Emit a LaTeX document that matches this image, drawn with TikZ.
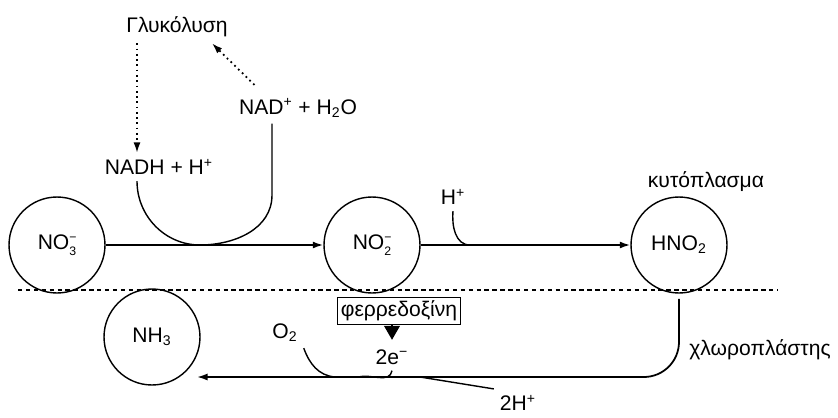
\documentclass[tikz,border=0pt]{standalone}
\usepackage{fontspec}
\setmainfont{Liberation Sans}
\usetikzlibrary{arrows.meta}
\newcommand{\ionx}[3]{#1\rlap{\raisebox{0.7ex}{\scriptsize #3}}\raisebox{-0.5ex}{\scriptsize #2}}
\tikzset{
  species/.style={draw,circle,line width=0.8pt,minimum size=1.92cm,inner sep=0pt},
  flow/.style={line width=1pt,-{Latex[length=6pt,width=4pt]}},
  side/.style={line width=0.8pt},
  helper/.style={line width=1pt,dotted,-{Latex[length=6pt,width=4pt]}},
  divider/.style={line width=0.8pt,dash pattern=on 2.5pt off 2pt},
  enzyme/.style={draw,line width=0.9pt,inner xsep=2pt,inner ysep=2pt}
}
\begin{document}
\begin{tikzpicture}[x=0.02cm,y=0.02cm,font=\fontsize{12}{14}\selectfont]
  \useasboundingbox (0,0) rectangle (838,417);
  \foreach \n/\x/\y/\t in {no3/57/172/{\ionx{NO}{3}{−}},no2/372/172/{\ionx{NO}{2}{−}},hno2/679/172/{HNO\textsubscript{2}},nh3/152/80/{NH\textsubscript{3}}} {
    \node[species] (\n) at (\x,\y) {\t};
  }
  \node (gly) at (177,390) {Γλυκόλυση};
  \node (nadp) at (298,309) {NAD\textsuperscript{+} + H\textsubscript{2}O};
  \node (nadh) at (159,250) {NADH + H\textsuperscript{+}};
  \node (hp) at (453,220) {H\textsuperscript{+}};
  \node (cyto) at (706,235) {κυτόπλασμα};
  \node[enzyme] (ferro) at (399,106) {φερρεδοξίνη};
  \node (o2) at (285,84) {O\textsubscript{2}};
  \node (e2) at (392,60) {2e\textsuperscript{−}};
  \node (h2) at (518,14) {2H\textsuperscript{+}};
  \node (chloro) at (760,67) {χλωροπλάστης};
  \coordinate (u) at (200,172);
  \coordinate (hj) at (470,172);
  \coordinate (oj) at (335,40);
  \coordinate (ej) at (358,40);
  \coordinate (hj2) at (420,40);
  \coordinate (nh3in) at (197,40);
  \draw[divider] (18,127) -- (778,127);
  \draw[flow] (no3) -- (no2);
  \draw[flow] (no2) -- (hno2);
  \draw[helper] (gly.south -| 137,0) -- (nadh.north -| 137,0);
  \draw[helper,shorten <=6pt] (nadp.north -| 262,0) -- (gly.south -| 212,0);
  \draw[side] (nadh.south -| 137,0) to[out=-90,in=180] (u) to[out=0,in=-90] (272,222) -- (nadp.south -| 272,0);
  \draw[side] (hp.south) to[out=-95,in=180] (hj);
  \draw[flow,rounded corners=20pt,shorten <=3pt] (hno2.south) |- (nh3in);
  \draw[side] (o2.south east) to[out=-70,in=175] (oj);
  \draw[side] (e2.south) to[out=-100,in=15] (ej);
  \draw[side] (h2.north west) -- (hj2);
  \draw[line width=0.8pt,-{Triangle[length=8pt,width=9pt]},shorten >=2pt] (ferro.south -| e2.north) -- (e2.north);
\end{tikzpicture}
\end{document}
